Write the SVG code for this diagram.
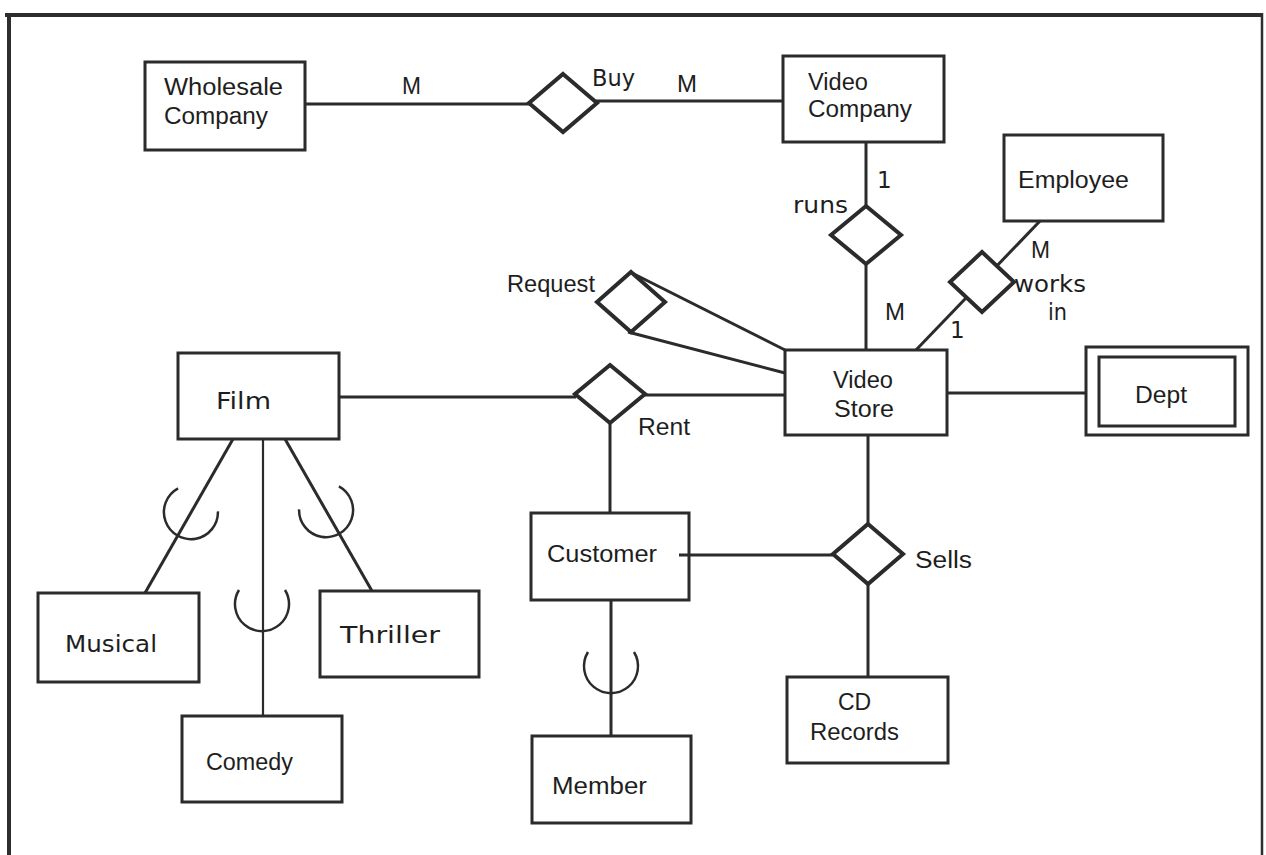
<svg xmlns="http://www.w3.org/2000/svg" width="1266" height="855" viewBox="0 0 1266 855">
<style>
.frame{stroke:#2e2e2e;fill:none}
.ent{fill:none;stroke:#2b2b2b;stroke-width:3}
.rel{fill:#fff;stroke:#2b2b2b;stroke-width:4;stroke-linejoin:miter}
.con line{stroke:#2b2b2b;stroke-width:3}
.cup{fill:none;stroke:#2b2b2b;stroke-width:2.5}
text{font-family:"Liberation Sans",Arial,sans-serif;font-size:23px;fill:#1e1e1e}
text.g{font-family:"DejaVu Sans",Verdana,sans-serif;font-size:23px}
</style>
<defs>
<path id="cupShape" class="cup" d="M -23,-14 A 27 27 0 1 0 23,-14"/>
</defs>
<rect width="1266" height="855" fill="#fff"/>
<g id="frame">
<line class="frame" x1="5" y1="15" x2="1263" y2="15" stroke-width="4"/>
<line class="frame" x1="9" y1="13" x2="9" y2="855" stroke-width="4"/>
<line class="frame" x1="1262" y1="13" x2="1262" y2="855" stroke-width="2.5"/>
</g>
<g id="connectors" class="con">
<line x1="305" y1="104" x2="530" y2="104"/>
<line x1="596" y1="101" x2="783" y2="101"/>
<line x1="866" y1="142" x2="866" y2="207"/>
<line x1="866" y1="263" x2="866" y2="350"/>
<line x1="1040" y1="221" x2="916" y2="350"/>
<line x1="630" y1="272" x2="785" y2="350"/>
<line x1="628" y1="332" x2="785" y2="373"/>
<line x1="339" y1="397" x2="576" y2="397"/>
<line x1="644" y1="395" x2="785" y2="395"/>
<line x1="947" y1="393" x2="1086" y2="393"/>
<line x1="610" y1="423" x2="610" y2="513"/>
<line x1="868" y1="435" x2="868" y2="524"/>
<line x1="679" y1="555" x2="833" y2="555"/>
<line x1="868" y1="584" x2="868" y2="677"/>
<line x1="611" y1="600" x2="611" y2="736"/>
<line x1="233" y1="439" x2="145" y2="593"/>
<line x1="263" y1="439" x2="263" y2="716" style="stroke-width:2.2"/>
<line x1="285" y1="439" x2="372" y2="591"/>
</g>
<g id="subset-marks">
<use href="#cupShape" transform="translate(191,512) rotate(30)"/>
<use href="#cupShape" transform="translate(262,604)"/>
<use href="#cupShape" transform="translate(326,510) rotate(-30)"/>
<use href="#cupShape" transform="translate(611,666)"/>
</g>
<g id="cardinalities">
<text x="402" y="94" textLength="19" lengthAdjust="spacingAndGlyphs">M</text>
<text x="677" y="92" textLength="20" lengthAdjust="spacingAndGlyphs">M</text>
<text class="g" x="877" y="188" font-size="21">1</text>
<text x="885" y="320" textLength="20" lengthAdjust="spacingAndGlyphs">M</text>
<text x="1031" y="258" textLength="19" lengthAdjust="spacingAndGlyphs">M</text>
<text class="g" x="950" y="338" font-size="21">1</text>
</g>
<g id="wholesale-company">
<rect class="ent" x="145" y="62" width="160" height="88"/>
<text x="164" y="95" font-size="24.5" textLength="119" lengthAdjust="spacingAndGlyphs">Wholesale</text>
<text x="164" y="124" font-size="24.5" textLength="104" lengthAdjust="spacingAndGlyphs">Company</text>
</g>
<g id="buy">
<polygon class="rel" points="563,74 597,103 563,132 529,103"/>
<text class="g" x="592" y="86" font-size="21" textLength="43" lengthAdjust="spacingAndGlyphs">Buy</text>
</g>
<g id="video-company">
<rect class="ent" x="783" y="56" width="161" height="86"/>
<text x="808" y="90" font-size="22" textLength="60" lengthAdjust="spacingAndGlyphs">Video</text>
<text x="808" y="117" font-size="23" textLength="104" lengthAdjust="spacingAndGlyphs">Company</text>
</g>
<g id="runs">
<polygon class="rel" points="866,206 901,235 866,264 831,235"/>
<text class="g" x="793" y="213" textLength="55" lengthAdjust="spacingAndGlyphs">runs</text>
</g>
<g id="employee">
<rect class="ent" x="1004" y="135" width="159" height="86"/>
<text x="1018" y="188" font-size="22" textLength="111" lengthAdjust="spacingAndGlyphs">Employee</text>
</g>
<g id="works-in">
<polygon class="rel" points="982,252 1014,282 982,312 950,282"/>
<text class="g" x="1014" y="292" textLength="72" lengthAdjust="spacingAndGlyphs">works</text>
<text class="g" x="1048" y="320" textLength="19" lengthAdjust="spacingAndGlyphs">in</text>
</g>
<g id="request">
<polygon class="rel" points="631,272 665,302 631,332 597,302"/>
<text x="507" y="292" font-size="22" textLength="88" lengthAdjust="spacingAndGlyphs">Request</text>
</g>
<g id="video-store">
<rect class="ent" x="785" y="350" width="162" height="85"/>
<text x="833" y="388" font-size="22" textLength="60" lengthAdjust="spacingAndGlyphs">Video</text>
<text x="834" y="417" textLength="60" lengthAdjust="spacingAndGlyphs">Store</text>
</g>
<g id="dept">
<rect class="ent" x="1086" y="347" width="162" height="88"/>
<rect class="ent" x="1099" y="357" width="136" height="69"/>
<text x="1135" y="403" font-size="25" textLength="52" lengthAdjust="spacingAndGlyphs">Dept</text>
</g>
<g id="film">
<rect class="ent" x="178" y="353" width="161" height="86"/>
<text class="g" x="216" y="409" textLength="55" lengthAdjust="spacingAndGlyphs">Film</text>
</g>
<g id="rent">
<polygon class="rel" points="610,365 645,394 610,423 575,394"/>
<text x="638" y="435" textLength="52" lengthAdjust="spacingAndGlyphs">Rent</text>
</g>
<g id="customer">
<rect class="ent" x="531" y="513" width="158" height="87"/>
<text x="547" y="562" font-size="25" textLength="110" lengthAdjust="spacingAndGlyphs">Customer</text>
</g>
<g id="sells">
<polygon class="rel" points="868,524 903,554 868,584 833,554"/>
<text x="915" y="568" font-size="25" textLength="57" lengthAdjust="spacingAndGlyphs">Sells</text>
</g>
<g id="cd-records">
<rect class="ent" x="787" y="677" width="161" height="86"/>
<text x="838" y="710" font-size="23">CD</text>
<text x="810" y="740" font-size="24" textLength="89" lengthAdjust="spacingAndGlyphs">Records</text>
</g>
<g id="member">
<rect class="ent" x="532" y="736" width="159" height="87"/>
<text x="552" y="794" textLength="95" lengthAdjust="spacingAndGlyphs">Member</text>
</g>
<g id="musical">
<rect class="ent" x="38" y="593" width="161" height="89"/>
<text class="g" x="65" y="652" textLength="92" lengthAdjust="spacingAndGlyphs">Musical</text>
</g>
<g id="thriller">
<rect class="ent" x="320" y="591" width="159" height="86"/>
<text class="g" x="340" y="643" textLength="100" lengthAdjust="spacingAndGlyphs">Thriller</text>
</g>
<g id="comedy">
<rect class="ent" x="182" y="716" width="160" height="86"/>
<text x="206" y="770" font-size="24" textLength="87" lengthAdjust="spacingAndGlyphs">Comedy</text>
</g>
</svg>
